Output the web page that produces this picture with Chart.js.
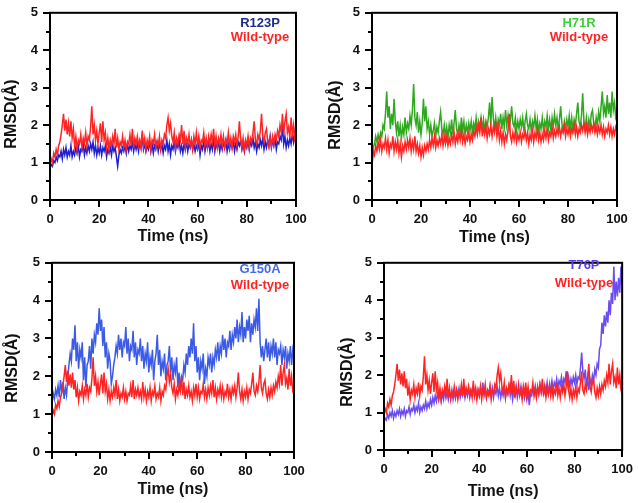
<!DOCTYPE html>
<html>
<head>
<meta charset="utf-8">
<script src="https://cdn.jsdelivr.net/npm/chart.js@4.4.1/dist/chart.umd.min.js"></script>
<style>
  html, body { margin: 0; padding: 0; background: #fff; }
  #wrap { position: relative; width: 638px; height: 503px; overflow: hidden; }
  canvas { position: absolute; }
</style>
</head>
<body>
<div id="wrap">
  <canvas id="p1" width="318" height="250" style="left:0;top:0;width:318px;height:250px"></canvas>
  <canvas id="p2" width="320" height="250" style="left:318px;top:0;width:320px;height:250px"></canvas>
  <canvas id="p3" width="318" height="253" style="left:0;top:250px;width:318px;height:253px"></canvas>
  <canvas id="p4" width="320" height="253" style="left:318px;top:250px;width:320px;height:253px"></canvas>
</div>
<script>
// RMSD (Å) sampled every 0.5 ns, 0 → 100 ns
const WT_A = [
  0.95,1.1,1.0,1.25,1.15,1.35,1.2,1.45,1.55,1.75, 2.0,2.3,1.85,2.15,1.75,2.05,1.7,2.1,1.65,1.9,
  1.45,1.7,1.35,1.6,1.5,1.75,1.4,1.65,1.5,1.8, 1.45,1.7,1.6,1.95,2.5,1.75,2.0,1.6,1.85,1.5,
  1.8,2.05,1.55,2.1,1.6,1.8,1.4,1.65,1.35,1.6, 1.45,1.7,1.5,1.9,1.4,1.65,1.35,1.55,1.45,1.7,
  1.4,1.6,1.35,1.55,1.5,1.75,1.45,1.9,1.4,1.65, 1.5,1.7,1.45,1.6,1.4,1.85,1.45,1.65,1.35,1.6,
  1.45,1.7,1.35,1.6,1.5,1.75,1.4,1.55,1.45,1.7, 1.35,1.6,1.5,1.75,1.65,2.0,2.2,1.85,2.05,1.7,
  1.55,1.8,1.4,1.65,1.5,1.75,1.6,2.0,1.5,1.85, 1.4,1.65,1.5,1.75,1.45,1.6,1.35,1.7,1.5,1.8,
  1.45,1.7,1.4,1.6,1.55,1.8,1.45,1.65,1.4,1.7, 1.5,1.75,1.55,1.9,1.45,1.7,1.4,1.65,1.5,1.75,
  1.45,1.7,1.4,1.6,1.5,1.8,1.45,1.65,1.4,1.7, 1.55,1.75,1.45,1.7,2.1,1.6,1.4,1.65,1.35,1.6,
  1.45,1.7,1.4,1.65,1.55,1.8,2.1,1.6,1.5,1.75, 1.6,1.85,2.3,1.7,1.55,1.8,1.9,1.55,1.4,1.65,
  1.45,1.7,1.5,1.75,1.6,1.85,1.7,2.0,1.8,2.3, 1.75,2.1,2.3,1.8,1.95,1.65,2.2,1.75,2.0,1.6,
  1.5
];
const R123P = [
  0.85,0.95,0.9,1.05,1.0,1.15,1.05,1.2,1.15,1.3, 1.1,1.35,1.2,1.4,1.15,1.3,1.2,1.45,1.15,1.3,
  1.2,1.4,1.25,1.45,1.15,1.35,1.3,1.5,1.2,1.4, 1.25,1.45,1.3,1.5,1.35,1.55,1.25,1.45,1.2,1.4,
  1.25,1.45,1.2,1.4,1.3,1.45,1.15,1.35,1.25,1.4, 1.2,1.45,1.3,1.4,1.15,0.9,1.2,1.35,1.25,1.4,
  1.3,1.45,1.25,1.5,1.3,1.45,1.35,1.55,1.3,1.5, 1.35,1.5,1.3,1.55,1.4,1.7,1.35,1.5,1.3,1.45,
  1.35,1.55,1.3,1.5,1.25,1.45,1.35,1.55,1.3,1.5, 1.35,1.5,1.25,1.45,1.35,1.6,1.3,1.5,1.2,1.45,
  1.35,1.55,1.3,1.5,1.4,1.6,1.3,1.45,1.25,1.5, 1.35,1.55,1.3,1.5,1.4,1.6,1.35,1.5,1.3,1.45,
  1.35,1.55,1.2,1.45,1.35,1.6,1.3,1.5,1.4,1.55, 1.3,1.5,1.35,1.65,1.3,1.5,1.4,1.55,1.3,1.5,
  1.35,1.55,1.4,1.6,1.3,1.5,1.35,1.55,1.4,1.6, 1.3,1.5,1.35,1.55,1.45,1.6,1.35,1.5,1.3,1.55,
  1.4,1.6,1.35,1.55,1.45,1.65,1.4,1.55,1.3,1.5, 1.4,1.6,1.45,1.65,1.35,1.55,1.4,1.6,1.45,1.7,
  1.4,1.6,1.45,1.65,1.35,1.55,1.5,1.7,1.6,2.0, 1.5,1.7,1.4,1.6,1.45,1.65,1.5,1.75,1.55,1.8,
  1.4
];
const WT_B = [
  0.9,1.3,1.2,1.45,1.3,1.55,1.35,1.6,1.3,1.5, 1.4,1.65,1.35,1.6,1.25,1.5,1.4,1.7,1.3,1.55,
  1.35,1.6,1.25,1.5,1.15,1.45,1.3,1.55,1.35,1.6, 1.4,1.65,1.3,1.55,1.35,1.7,1.3,1.5,1.25,1.45,
  1.15,1.4,1.2,1.45,1.3,1.5,1.35,1.6,1.4,1.65, 1.45,1.7,1.4,1.6,1.45,1.65,1.5,1.75,1.45,1.7,
  1.5,1.7,1.45,1.65,1.5,1.75,1.55,1.8,1.5,1.7, 1.55,1.8,1.6,1.85,1.55,1.75,1.5,1.7,1.6,1.8,
  1.55,1.75,1.6,1.85,1.7,1.95,1.75,2.0,1.8,2.2, 1.7,1.95,1.75,2.0,1.65,1.9,1.75,2.0,1.7,1.95,
  1.8,2.1,1.7,1.95,1.6,1.85,1.55,1.8,1.5,1.75, 1.6,1.85,2.3,1.7,1.55,1.8,1.6,1.85,1.55,1.75,
  1.6,1.8,1.55,1.75,1.65,1.85,1.6,1.8,1.5,1.75, 1.6,1.85,1.55,1.8,1.65,1.9,1.6,1.8,1.55,1.75,
  1.6,1.85,1.65,1.9,1.6,1.8,1.7,1.95,1.65,1.85, 1.7,1.9,1.75,1.95,1.7,1.9,1.8,2.0,1.7,1.9,
  1.75,1.95,1.7,1.9,1.8,2.0,1.75,1.95,1.7,1.9, 1.8,2.0,1.85,2.05,1.8,2.0,1.75,1.95,1.8,2.0,
  1.85,2.05,1.8,1.95,1.75,1.95,1.8,2.0,1.75,1.95, 1.7,1.9,1.8,2.0,1.75,1.95,1.7,1.9,1.75,1.95,
  1.85
];
const H71R = [
  1.0,1.4,1.5,1.7,1.55,1.75,1.6,1.8,1.7,2.0, 1.9,2.3,2.9,2.2,2.5,1.9,2.3,2.0,2.7,2.1,
  1.8,2.1,1.7,2.0,1.65,1.95,1.75,2.2,1.8,2.05, 1.9,2.25,2.0,2.4,3.1,2.2,2.0,2.35,1.8,2.1,
  1.75,2.05,2.7,2.1,2.5,1.9,2.1,1.75,2.0,1.7, 1.85,2.05,1.7,1.95,1.8,2.1,2.35,1.9,1.75,2.0,
  1.7,1.95,1.65,2.0,1.8,2.15,1.75,2.05,2.4,1.9, 1.75,2.0,1.8,2.2,1.85,2.1,1.75,2.0,1.8,2.05,
  1.85,2.1,1.8,2.05,1.9,2.2,1.85,2.1,1.95,2.2, 1.9,2.15,1.85,2.1,1.95,2.2,2.6,2.0,2.75,2.2,
  1.9,2.2,1.85,2.15,2.0,2.3,1.9,2.2,1.95,2.4, 2.0,2.25,1.9,2.15,2.5,2.05,1.95,2.2,1.85,2.1,
  1.9,2.15,1.95,2.2,1.85,2.1,2.3,2.0,1.9,2.15, 1.85,2.1,1.95,2.25,1.9,2.15,1.8,2.05,1.9,2.2,
  1.85,2.1,1.95,2.25,1.9,2.15,1.85,2.2,1.95,2.3, 2.0,2.2,1.9,2.15,2.5,2.05,1.85,2.1,1.9,2.15,
  1.95,2.25,1.9,2.2,1.85,2.15,2.0,2.3,2.6,2.1, 1.95,2.25,2.85,2.1,1.9,2.2,1.85,2.15,1.95,2.3,
  2.4,2.05,1.9,2.2,2.0,2.35,2.1,2.5,2.9,2.3, 2.5,2.2,2.8,2.3,2.6,2.2,2.9,2.4,2.6,2.2,
  2.3
];
const G150A = [
  1.3,1.55,1.4,1.65,1.5,1.75,1.45,1.9,1.6,1.85, 1.4,1.7,1.5,1.95,2.3,2.6,2.4,3.0,2.7,3.35,
  2.4,2.9,2.2,2.7,2.5,2.9,1.9,2.5,1.7,2.3, 2.4,2.8,2.2,3.0,2.6,3.1,2.9,3.4,3.1,3.8,
  3.2,3.5,2.8,3.3,2.5,2.9,2.2,2.6,2.4,1.8, 2.0,2.3,2.5,2.8,2.6,3.1,2.7,3.0,2.5,2.9,
  2.8,3.3,2.6,3.0,2.4,2.8,2.7,3.2,2.5,2.9, 2.3,2.7,2.6,3.0,2.4,2.8,2.2,2.6,2.4,2.9,
  2.1,2.5,2.3,2.7,1.9,2.4,2.6,3.1,2.3,2.7, 2.0,2.4,2.2,2.6,1.9,2.3,2.4,2.8,2.1,2.5,
  1.9,2.3,2.1,2.5,1.7,2.1,1.6,2.0,1.9,2.3, 2.1,2.6,2.3,2.8,2.5,3.0,2.6,3.4,2.4,2.8,
  2.1,2.5,1.9,2.4,2.2,2.6,1.8,2.2,2.0,2.5, 2.3,2.6,2.1,2.5,2.3,2.7,2.5,2.9,2.4,2.8,
  2.6,3.1,2.7,3.0,2.5,2.9,2.8,3.2,2.7,3.1, 2.9,3.3,3.0,3.5,2.9,3.3,3.1,3.7,2.9,3.3,
  3.0,3.5,3.2,3.6,2.9,3.4,3.1,3.5,3.3,3.8, 3.2,4.05,2.9,2.5,2.8,2.4,2.7,3.0,2.5,2.9,
  2.4,2.8,2.6,3.0,2.5,2.9,2.3,2.7,2.6,2.8, 2.3,2.7,2.5,2.8,2.2,2.6,2.4,2.8,2.3,2.7,
  2.5
];
const T76P = [
  0.75,0.85,0.8,0.95,0.85,1.0,0.9,1.05,0.85,1.0, 0.9,1.05,0.95,1.1,0.9,1.05,0.95,1.1,0.9,1.05,
  1.0,1.15,0.95,1.1,1.05,1.2,1.0,1.15,1.05,1.25, 1.0,1.15,1.05,1.2,1.1,1.3,1.1,1.25,1.15,1.35,
  1.2,1.4,1.25,1.45,1.3,1.5,1.35,1.55,1.3,1.5, 1.35,1.6,1.4,1.55,1.35,1.55,1.4,1.6,1.35,1.55,
  1.4,1.6,1.45,1.65,1.4,1.55,1.45,1.65,1.4,1.6, 1.45,1.65,1.4,1.6,1.5,1.7,1.45,1.6,1.4,1.6,
  1.45,1.65,1.5,1.8,1.45,1.65,1.4,1.6,1.5,1.7, 1.45,1.65,1.4,1.6,1.5,1.7,1.45,1.65,1.4,1.6,
  1.45,1.65,1.4,1.6,1.5,1.7,1.45,1.65,1.35,1.6, 1.45,1.7,1.4,1.6,1.5,1.7,1.45,1.65,1.4,1.6,
  1.35,1.55,1.2,1.5,1.45,1.65,1.5,1.7,1.45,1.65, 1.5,1.75,1.55,1.7,1.5,1.7,1.55,1.8,1.5,1.7,
  1.65,1.85,1.6,1.8,1.7,1.9,1.65,1.85,1.75,1.95, 1.7,1.9,1.8,2.1,1.75,1.95,1.7,1.9,1.75,1.95,
  1.8,2.0,1.75,1.95,1.9,2.2,2.6,2.1,1.9,2.15, 1.7,1.95,1.6,1.9,1.75,2.0,1.85,2.15,2.0,2.3,
  2.2,2.7,2.8,3.4,3.1,3.6,3.3,3.7,3.4,4.0, 3.6,4.2,3.9,4.9,4.0,4.5,4.1,4.6,4.2,4.9,
  4.4
];
const TIME = WT_A.map((_, i) => i / 2);

const X_TICKS = [0, 20, 40, 60, 80, 100];
const Y_TICKS = [0, 1, 2, 3, 4, 5];

const FONT = '"Liberation Sans", Arial, sans-serif';
const RED = '#ff2424';

const PANELS = [
  { id: 'p1', area: [50, 296, 7, 200], mutant: R123P, wt: WT_A, name: 'R123P',
    line: '#1f1fd0', text: '#1b2b8e', legend: [260, 23, 37], ytitle: [12, 114], xtitle: 237 },
  { id: 'p2', area: [54, 299, 7, 200], mutant: H71R, wt: WT_B, name: 'H71R',
    line: '#2fa81f', text: '#3fcf3a', legend: [261, 23, 37], ytitle: [18, 115], xtitle: 238 },
  { id: 'p3', area: [52, 294, 11, 202], mutant: G150A, wt: WT_A, name: 'G150A',
    line: '#3b5be6', text: '#4868e2', legend: [260, 19, 35], ytitle: [13, 118], xtitle: 240 },
  { id: 'p4', area: [66, 308, 9, 200], mutant: T76P, wt: WT_A, name: 'T76P',
    line: '#6b4cf2', text: '#5a3fe6', legend: [266, 15, 33], ytitle: [30, 122], xtitle: 242 },
];

// box, outward major/minor ticks, titles and in-plot legend
const framePlugin = {
  id: 'frame',
  afterDraw(chart, args, opts) {
    const { ctx, chartArea: a, scales } = chart;
    ctx.save();
    ctx.strokeStyle = '#000';
    ctx.lineWidth = 2;
    ctx.strokeRect(a.left, a.top, a.right - a.left, a.bottom - a.top);
    ctx.beginPath();
    for (let v = 0; v <= 5; v += 0.5) {
      const y = Math.round(scales.y.getPixelForValue(v));
      const len = v % 1 === 0 ? 7 : 4;
      ctx.moveTo(a.left - len, y);
      ctx.lineTo(a.left, y);
    }
    for (let v = 0; v <= 100; v += 10) {
      const x = Math.round(scales.x.getPixelForValue(v));
      const len = v % 20 === 0 ? 7 : 4;
      ctx.moveTo(x, a.bottom);
      ctx.lineTo(x, a.bottom + len);
    }
    ctx.stroke();

    ctx.fillStyle = '#111';
    ctx.textAlign = 'center';
    ctx.textBaseline = 'middle';
    ctx.font = `bold 16px ${FONT}`;
    ctx.fillText('Time (ns)', (a.left + a.right) / 2, opts.xtitle);
    ctx.translate(opts.ytitle[0], opts.ytitle[1]);
    ctx.rotate(-Math.PI / 2);
    ctx.fillText('RMSD(Å)', 0, 0);
    ctx.setTransform(1, 0, 0, 1, 0, 0);

    ctx.font = `bold 13px ${FONT}`;
    ctx.fillStyle = opts.text;
    ctx.fillText(opts.name, opts.legend[0], opts.legend[1]);
    ctx.fillStyle = RED;
    ctx.fillText('Wild-type', opts.legend[0], opts.legend[2]);
    ctx.restore();
  }
};

function buildPanel(p) {
  const canvas = document.getElementById(p.id);
  const [L, R, T, B] = p.area;
  const W = canvas.width, H = canvas.height;
  const tickFont = { family: FONT, size: 13, weight: 'bold' };

  new Chart(canvas.getContext('2d'), {
    type: 'line',
    data: {
      labels: TIME,
      datasets: [
        { label: 'Wild-type', data: p.wt, borderColor: RED, borderWidth: 1.5,
          pointRadius: 0, tension: 0 },
        { label: p.name, data: p.mutant, borderColor: p.line, borderWidth: 1.5,
          pointRadius: 0, tension: 0 },
      ]
    },
    options: {
      responsive: false,
      animation: false,
      events: [],
      layout: { padding: { left: 0, top: T, right: W - R, bottom: 0 } },
      plugins: {
        legend: { display: false },
        tooltip: { enabled: false },
        frame: { name: p.name, text: p.text, legend: p.legend, ytitle: p.ytitle, xtitle: p.xtitle },
      },
      scales: {
        x: {
          type: 'linear', min: 0, max: 100,
          afterBuildTicks: s => { s.ticks = X_TICKS.map(v => ({ value: v })); },
          afterFit: s => { s.height = H - B; },
          ticks: { color: '#111', font: tickFont, padding: 5, maxRotation: 0 },
          grid: { display: false, drawTicks: true, tickLength: 7 },
          border: { display: false },
        },
        y: {
          min: 0, max: 5,
          afterBuildTicks: s => { s.ticks = Y_TICKS.map(v => ({ value: v })); },
          afterFit: s => { s.width = L; },
          ticks: { color: '#111', font: tickFont, padding: 5 },
          grid: { display: false, drawTicks: true, tickLength: 7 },
          border: { display: false },
        }
      }
    },
    plugins: [framePlugin]
  });
}

PANELS.forEach(buildPanel);
</script>
</body>
</html>
